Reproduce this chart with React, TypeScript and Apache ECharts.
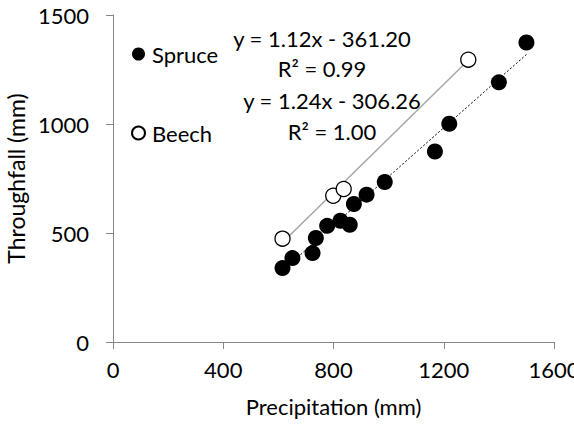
import React, { useEffect, useRef } from "react";
import * as echarts from "echarts";

const spruceX = [615, 651, 724, 736, 777, 825, 859, 874, 920, 986, 1168, 1220, 1400, 1500];
const spruceY = [339, 385, 408, 477, 533, 556, 538, 633, 676, 734, 874, 1001, 1191, 1374];
const beechX = [615, 799, 837, 1289];
const beechY = [474, 671, 702, 1295];

const spruceSlope = 1.12;
const spruceIntercept = -361.2;
const spruceR2 = 0.99;
const beechSlope = 1.24;
const beechIntercept = -306.26;
const beechR2 = 1.0;

const xMin = 0;
const xMax = 1600;
const xStep = 400;
const yMin = 0;
const yMax = 1500;
const yStep = 500;

const FONT = "Lato, 'Open Sans', sans-serif";
const FS = 22;

function eq(slope: number, intercept: number) {
  const sign = intercept < 0 ? "-" : "+";
  return `y = ${slope.toFixed(2)}x ${sign} ${Math.abs(intercept).toFixed(2)}`;
}

function fitLine(xs: number[], slope: number, intercept: number) {
  const lo = Math.min(...xs);
  const hi = Math.max(...xs);
  return [
    [lo, slope * lo + intercept],
    [hi, slope * hi + intercept],
  ];
}

export default function App() {
  const ref = useRef<HTMLDivElement>(null);
  useEffect(() => {
    document.body.style.margin = "0";
    if (!ref.current) return;
    const chart = echarts.init(ref.current, undefined, { renderer: "svg" });
    const axisLine = { show: true, lineStyle: { color: "#868686", width: 1 } };
    const txt = { fontFamily: FONT, fontSize: FS, color: "#000" };
    chart.setOption({
      animation: false,
      backgroundColor: "#ffffff",
      grid: { left: 113, top: 15, right: 20, bottom: 82, containLabel: false, outerBoundsMode: "none" },
      legend: {
        orient: "vertical",
        left: 126,
        top: 38,
        itemWidth: 13,
        itemHeight: 13,
        itemGap: 57,
        data: ["Spruce", "Beech"],
        textStyle: { ...txt, padding: [0, 0, 0, 2] },
      },
      xAxis: {
        type: "value",
        min: xMin,
        max: xMax,
        interval: xStep,
        name: "Precipitation (mm)",
        nameLocation: "middle",
        nameGap: 53,
        nameTextStyle: txt,
        axisLine,
        axisTick: { show: true, length: 7, lineStyle: { color: "#868686" } },
        axisLabel: { ...txt, margin: 16, formatter: (v: number) => String(v) },
        splitLine: { show: false },
      },
      yAxis: {
        type: "value",
        min: yMin,
        max: yMax,
        interval: yStep,
        name: "Throughfall (mm)",
        nameLocation: "middle",
        nameGap: 77,
        nameTextStyle: { ...txt, fontSize: 23 },
        axisLine,
        axisTick: { show: true, length: 7, lineStyle: { color: "#868686" } },
        axisLabel: { ...txt, margin: 24, formatter: (v: number) => String(v) },
        splitLine: { show: false },
      },
      graphic: [
        { type: "text", x: 322, y: 38, style: { text: eq(spruceSlope, spruceIntercept), fontFamily: FONT, fontSize: FS, fill: "#000", align: "center", verticalAlign: "middle" } },
        { type: "text", x: 322, y: 68, style: { text: `R² = ${spruceR2.toFixed(2)}`, fontFamily: FONT, fontSize: FS, fill: "#000", align: "center", verticalAlign: "middle" } },
        { type: "text", x: 332, y: 100, style: { text: eq(beechSlope, beechIntercept), fontFamily: FONT, fontSize: FS, fill: "#000", align: "center", verticalAlign: "middle" } },
        { type: "text", x: 332, y: 131, style: { text: `R² = ${beechR2.toFixed(2)}`, fontFamily: FONT, fontSize: FS, fill: "#000", align: "center", verticalAlign: "middle" } },
      ],
      series: [
        {
          name: "Spruce fit",
          type: "line",
          data: fitLine(spruceX, spruceSlope, spruceIntercept),
          showSymbol: false,
          lineStyle: { color: "#000", width: 1, type: [2, 2] },
          z: 1,
          silent: true,
        },
        {
          name: "Beech fit",
          type: "line",
          data: fitLine(beechX, beechSlope, beechIntercept),
          showSymbol: false,
          lineStyle: { color: "#a6a6a6", width: 1.5 },
          z: 1,
          silent: true,
        },
        {
          name: "Spruce",
          type: "scatter",
          symbol: "circle",
          symbolSize: 16,
          data: spruceX.map((x, i) => [x, spruceY[i]]),
          itemStyle: { color: "#000", opacity: 1 },
          z: 3,
        },
        {
          name: "Beech",
          type: "scatter",
          symbol: "circle",
          symbolSize: 15,
          data: beechX.map((x, i) => [x, beechY[i]]),
          itemStyle: { color: "#fff", borderColor: "#000", borderWidth: 1.3, opacity: 1 },
          z: 4,
        },
      ],
    });
    return () => chart.dispose();
  }, []);
  return <div ref={ref} style={{ width: 574, height: 424 }} />;
}
